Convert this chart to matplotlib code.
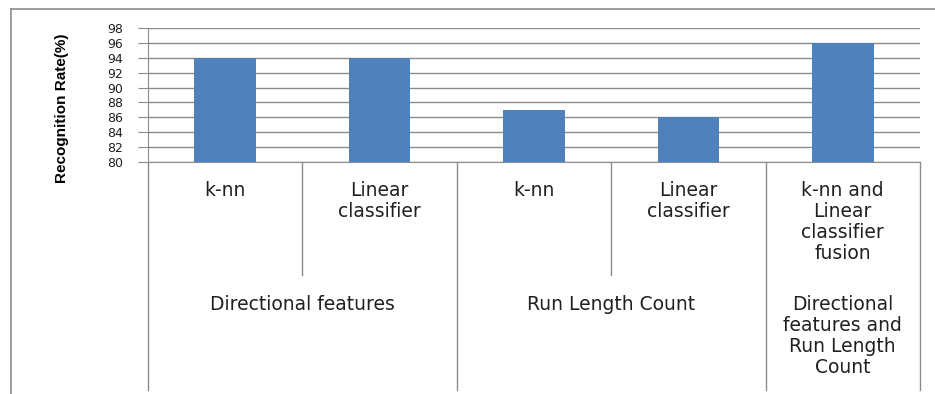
import matplotlib.pyplot as plt
from matplotlib.lines import Line2D
import matplotlib.transforms as mtransforms

groups = ['Directional features', 'Run Length Count',
          'Directional\nfeatures and\nRun Length\nCount']
group_sizes = [2, 2, 1]
methods = ['k-nn', 'Linear\nclassifier', 'k-nn', 'Linear\nclassifier',
           'k-nn and\nLinear\nclassifier\nfusion']
rates = [94, 94, 87, 86, 96]
yticks = list(range(80, 100, 2))

W, H = 935, 394
fig = plt.figure(figsize=(W / 100, H / 100), dpi=100)
ax = fig.add_axes([148 / W, 1 - 162 / H, (920 - 148) / W, (162 - 28) / H])

grey = '#8c8c8c'
x = list(range(len(methods)))
ax.bar(x, rates, width=0.4, color='#4f81bd', zorder=3)
ax.set_xlim(-0.5, len(methods) - 0.5)
ax.set_ylim(80, 98)
ax.set_yticks(yticks)
ax.set_yticklabels([str(v) for v in yticks], fontsize=9, color='#202020')
ax.yaxis.grid(True, color=grey, linewidth=1)
ax.set_axisbelow(True)
ax.set_xticks([])
for s in ['top', 'right']:
    ax.spines[s].set_visible(False)
for s in ['left', 'bottom']:
    ax.spines[s].set_color(grey)
ax.tick_params(axis='y', direction='out', length=7, color=grey, pad=11)

trans = mtransforms.blended_transform_factory(ax.transData, ax.transAxes)

# method labels
for i, m in enumerate(methods):
    ax.text(i, -0.145, m, transform=trans, ha='center', va='top',
            fontsize=13.5, linespacing=1.13, color='#202020')

# group labels and dividers
start = 0
edges = [-0.5]
for g, n in zip(groups, group_sizes):
    center = start + (n - 1) / 2
    ax.text(center, -0.995, g, transform=trans, ha='center', va='top',
            fontsize=13.5, linespacing=1.13, color='#202020')
    for k in range(1, n):
        ax.add_line(Line2D([start + k - 0.5] * 2, [0, -0.843], transform=trans,
                           color=grey, linewidth=1, clip_on=False))
    start += n
    edges.append(start - 0.5)
for e in edges:
    ax.add_line(Line2D([e, e], [0, -1.70], transform=trans,
                       color=grey, linewidth=1, clip_on=False))

fig.text(62 / W, 1 - 108 / H, 'Recognition Rate(%)', rotation=90,
         ha='center', va='center', fontsize=11, fontweight='bold',
         family=['Liberation Sans Narrow', 'Liberation Sans', 'DejaVu Sans'])

# outer chart border
fig.add_artist(Line2D([11 / W, 11 / W], [0, 1 - 9 / H], transform=fig.transFigure,
                      color=grey, linewidth=1.2))
fig.add_artist(Line2D([11 / W, 1], [1 - 9 / H, 1 - 9 / H], transform=fig.transFigure,
                      color=grey, linewidth=1.2))

fig.savefig('out.png', dpi=100)
